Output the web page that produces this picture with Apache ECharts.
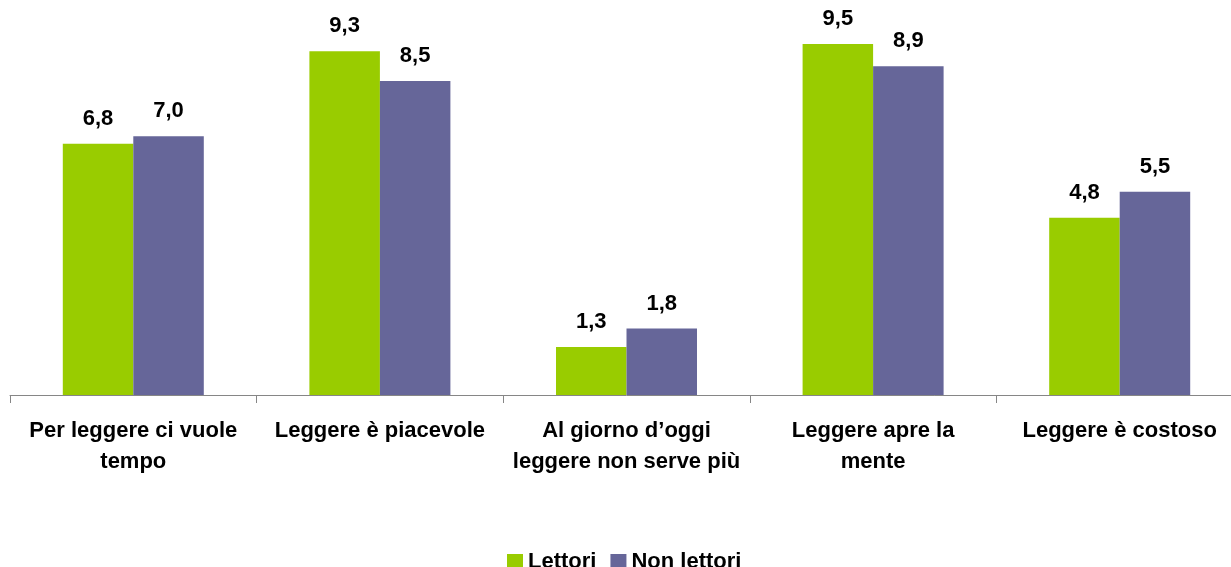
<!DOCTYPE html>
<html>
<head>
<meta charset="utf-8">
<script src="https://cdn.jsdelivr.net/npm/echarts@6/dist/echarts.min.js"></script>
<style>
  html, body { margin: 0; padding: 0; background: #fff; overflow: hidden; }
  #main { width: 1243px; height: 567px; }
</style>
</head>
<body>
<div id="main"></div>
<script>
// dati
var categorie = [
	'Per leggere ci vuole\ntempo',
	'Leggere è piacevole',
	'Al giorno d\u2019oggi\nleggere non serve più',
	'Leggere apre la\nmente',
	'Leggere è costoso'
];
var lettori = [6.8, 9.3, 1.3, 9.5, 4.8];
var nonLettori = [7.0, 8.5, 1.8, 8.9, 5.5];

var font = '"Liberation Sans", Arial, sans-serif';

var myChart = echarts.init(document.getElementById('main'));

var etichetta = {
	show: true,
	position: 'top',
	distance: 14,
	fontFamily: font,
	fontSize: 22,
	fontWeight: 'bold',
	color: '#000',
	formatter: function (p) { return p.value.toFixed(1).replace('.', ','); }
};

option = {
	animation: false,
	color: ['#99CC00', '#666699'],
	grid: {
		left: 10,
		right: 0,
		top: 25.5,
		bottom: 172,
		containLabel: false
	},
	legend: {
		data: ['Lettori', 'Non lettori'],
		top: 546,
		left: 502,
		itemWidth: 16,
		itemHeight: 16,
		itemGap: 14,
		icon: 'rect',
		textStyle: {
			fontFamily: font,
			fontSize: 22,
			fontWeight: 'bold',
			color: '#000'
		}
	},
	xAxis: {
		type: 'category',
		data: categorie,
		axisLine: { lineStyle: { color: '#868686', width: 1 } },
		axisTick: { show: true, length: 8, lineStyle: { color: '#868686' } },
		axisLabel: {
			interval: 0,
			margin: 20,
			fontFamily: font,
			fontSize: 22,
			fontWeight: 'bold',
			lineHeight: 31,
			color: '#000'
		}
	},
	yAxis: {
		type: 'value',
		min: 0,
		max: 10,
		show: false,
		splitLine: { show: false }
	},
	series: [
		{
			name: 'Lettori',
			type: 'bar',
			barWidth: 70.5,
			barGap: '0%',
			data: lettori,
			label: etichetta
		},
		{
			name: 'Non lettori',
			type: 'bar',
			barWidth: 70.5,
			barGap: '0%',
			data: nonLettori,
			label: etichetta
		}
	]
};

myChart.setOption(option);
</script>
</body>
</html>
